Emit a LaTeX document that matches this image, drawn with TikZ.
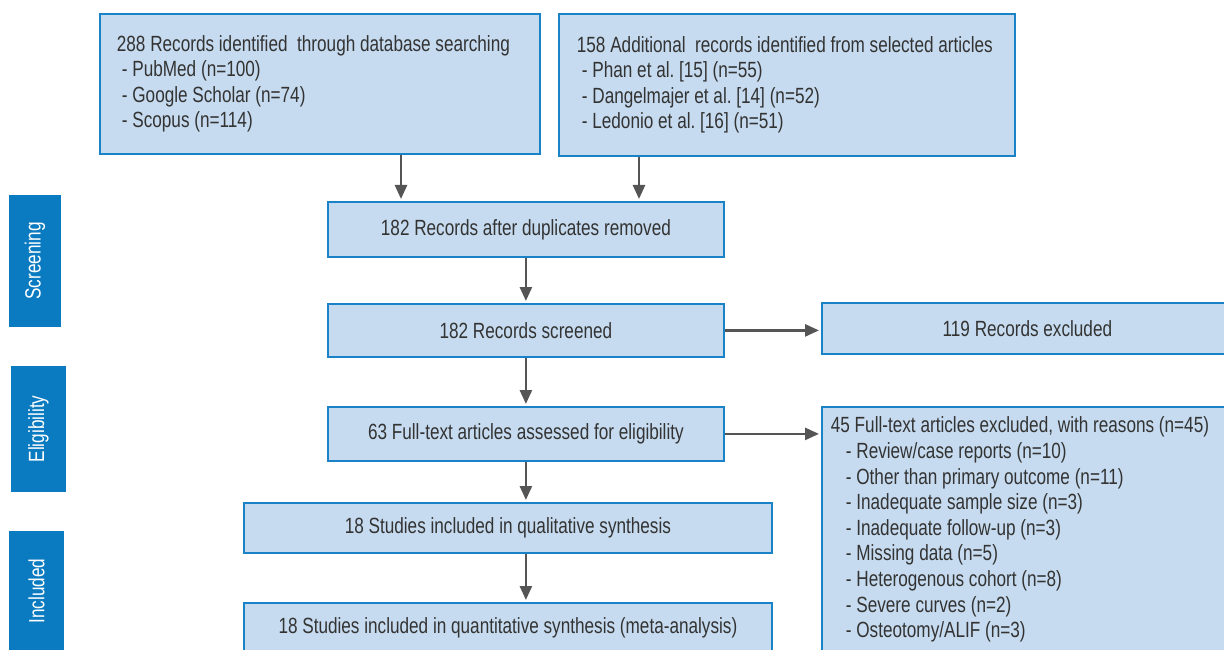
\documentclass[tikz,border=0pt]{standalone}
\usepackage{fontspec}
\setmainfont[FakeStretch=0.78]{Liberation Sans}
\usetikzlibrary{arrows.meta}
\usepackage{xcolor}
\definecolor{boxfill}{HTML}{C6DBEF}
\definecolor{boxline}{HTML}{1A82C6}
\definecolor{barfill}{HTML}{0A7BC1}
\definecolor{txtgray}{HTML}{333333}
\definecolor{arrgray}{HTML}{555555}

\begin{document}
\begin{tikzpicture}[x=1pt,y=-1pt,
    font=\fontsize{22pt}{25.6pt}\selectfont,
    box/.style={draw=boxline,line width=1.8pt,fill=boxfill,text=txtgray,inner sep=0pt},
    sidebar/.style={fill=barfill,text=white,rotate=90,inner sep=0pt},
    arrow/.style={draw=arrgray,line width=2.6pt,-{Triangle[length=14pt,width=12pt]},shorten >=2pt}]
    \useasboundingbox (0,0) rectangle (1224,650);
    \clip (0,0) rectangle (1224,650);
    % stage bars
    \node[sidebar,minimum width=132pt,minimum height=52pt] (screening) at (35,261) {Screening};
    \node[sidebar,minimum width=126pt,minimum height=55pt] (eligibility) at (38.5,429) {Eligibility};
    \node[sidebar,minimum width=121pt,minimum height=55pt] (included) at (36.5,591) {Included};
    % identification
    \node[box,anchor=north west,minimum height=140pt,text width=406pt,inner xsep=17pt,align=flush left] (search) at (99,13)
      {288 Records identified\ \ through database searching\\
       \hspace*{5pt}- PubMed (n=100)\\
       \hspace*{5pt}- Google Scholar (n=74)\\
       \hspace*{5pt}- Scopus (n=114)};
    \node[box,anchor=north west,minimum height=142pt,text width=420pt,inner xsep=18pt,align=flush left] (other) at (558,13)
      {158 Additional\ \ records identified from selected articles\\
       \hspace*{5pt}- Phan et al.\ [15] (n=55)\\
       \hspace*{5pt}- Dangelmajer et al.\ [14] (n=52)\\
       \hspace*{5pt}- Ledonio et al.\ [16] (n=51)};
    % main column
    \node[box,anchor=north west,minimum width=396pt,minimum height=55pt] (dedup) at (327,201) {182 Records after duplicates removed};
    \node[box,anchor=north west,minimum width=396pt,minimum height=53pt] (screen) at (327,303) {182 Records screened};
    \node[box,anchor=north west,minimum width=396pt,minimum height=54pt] (fulltext) at (327,406) {63 Full-text articles assessed for eligibility};
    \node[box,anchor=north west,minimum width=528pt,minimum height=50pt] (qual) at (243,502) {18 Studies included in qualitative synthesis};
    \node[box,anchor=north west,minimum width=528pt,minimum height=50pt] (quant) at (243,602) {18 Studies included in quantitative synthesis (meta-analysis)};
    % exclusions
    \node[box,anchor=north west,text width=393pt,inner xsep=9pt,inner ysep=10pt,align=flush left] (reasons) at (821,406)
      {45 Full-text articles excluded, with reasons (n=45)\\
       \hspace*{15pt}- Review/case reports (n=10)\\
       \hspace*{15pt}- Other than primary outcome (n=11)\\
       \hspace*{15pt}- Inadequate sample size (n=3)\\
       \hspace*{15pt}- Inadequate follow-up (n=3)\\
       \hspace*{15pt}- Missing data (n=5)\\
       \hspace*{15pt}- Heterogenous cohort (n=8)\\
       \hspace*{15pt}- Severe curves (n=2)\\
       \hspace*{15pt}- Osteotomy/ALIF (n=3)};
    \node[box,anchor=north west,minimum width=411pt,minimum height=51pt] (excl) at (821,302) {119 Records excluded};
    % arrows
    \coordinate (in1) at ([xshift=74pt]dedup.north west);
    \coordinate (in2) at ([xshift=312pt]dedup.north west);
    \draw[arrow] (in1 |- search.south) -- (in1);
    \draw[arrow] (in2 |- other.south) -- (in2);
    \draw[arrow] (dedup) -- (screen);
    \draw[arrow] (screen.east) -- (screen.east -| excl.west);
    \draw[arrow] (screen) -- (fulltext);
    \draw[arrow] (fulltext.east) -- (fulltext.east -| reasons.west);
    \draw[arrow] (fulltext.south) -- (fulltext.south |- qual.north);
    \draw[arrow] (fulltext.south |- qual.south) -- (fulltext.south |- quant.north);
  \end{tikzpicture}
\end{document}
